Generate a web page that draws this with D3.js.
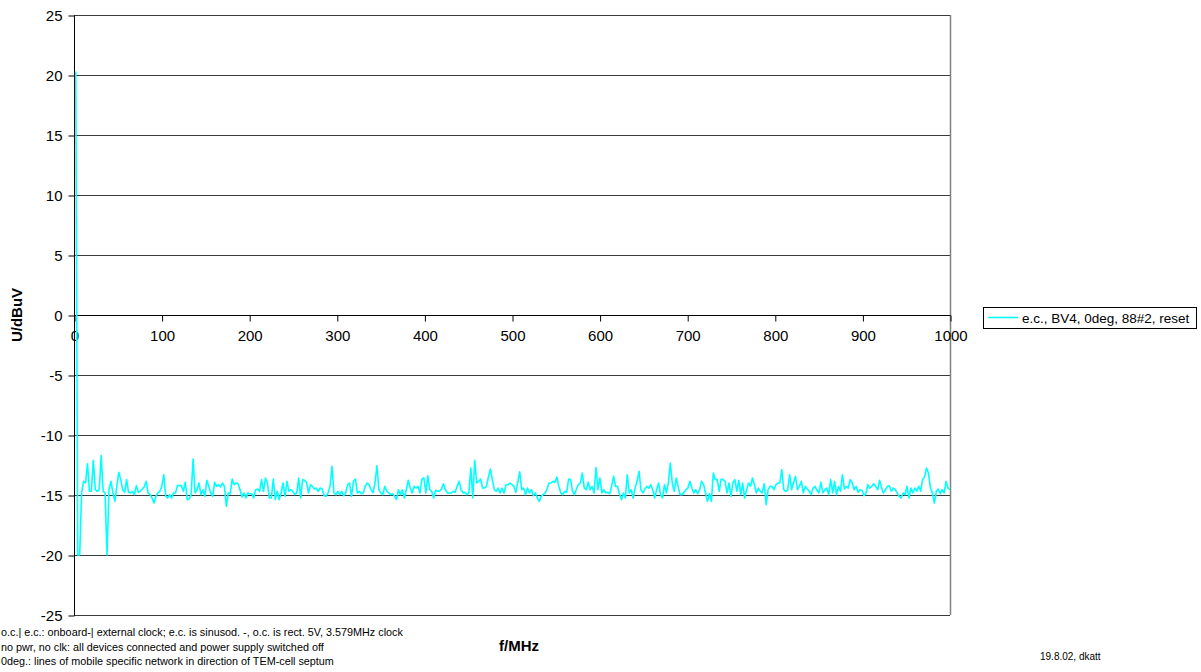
<!DOCTYPE html>
<html lang="en">
    <head>
        <meta charset="utf-8">
        <title>U/dBuV vs f/MHz</title>
        <script src="https://d3js.org/d3.v7.min.js"></script>
        <style type="text/css">
            body { margin: 0; background: #fff; }
            text { font-family: Arial, "Liberation Sans", sans-serif; }
        </style>
    </head>
    <body>
        <script type="text/javascript">

        // Constants
        const w = 1201;
        const h = 672;
        const plot = {left: 74, right: 950, top: 15, bottom: 615};

        // Data
        const seriesName = "e.c., BV4, 0deg, 88#2, reset";
        const xTicks = [0, 100, 200, 300, 400, 500, 600, 700, 800, 900, 1000];
        const yTicks = [25, 20, 15, 10, 5, 0, -5, -10, -15, -20, -25];
        const fFirst = 2;      // first sweep frequency, MHz
        const fLast = 1000;    // last sweep frequency, MHz
        const notes = [
            "o.c.| e.c.: onboard-| external clock; e.c. is sinusod. -, o.c. is rect. 5V, 3.579MHz clock",
            "no pwr, no clk: all devices connected and power supply switched off",
            "0deg.: lines of mobile specific network in direction of TEM-cell septum"
        ];
        const stamp = "19.8.02, dkatt";

        // measured level, dBuV, one value per sweep point
        const levels = [
            20.3, -20, -20,
            -14.83, -13.86, -14.0, -12.39, -14.69, -14.69, -12.11, -14.56, -14.69, -14.56,
            -11.72, -14.69, -14.83, -20, -14.56, -13.86, -14.83, -15.53, -14.28, -13.11,
            -13.72, -14.56, -14.78, -13.72, -14.78, -14.83, -14.69, -14.97, -14.22, -14.78,
            -14.69, -14.5, -14.33, -13.86, -14.83, -14.97, -15.25, -15.67, -15.11, -14.83,
            -14.69, -14.28, -13.31, -15.11, -15.25, -14.97, -15.25, -14.83, -14.83, -14.22,
            -14.22, -14.22, -14.69, -13.94, -15.39, -15.33, -14.97, -12.0, -14.83, -14.56,
            -14.0, -14.97, -14.56, -15.11, -13.78, -14.28, -14.83, -15.11, -13.94, -14.28,
            -14.14, -14.33, -14.0, -14.28, -15.94, -14.83, -14.89, -13.67, -14.14, -14.0,
            -14.06, -14.56, -15.17, -14.83, -15.25, -14.83, -14.89, -14.89, -15.25, -14.56,
            -14.5, -14.69, -13.72, -14.69, -13.58, -14.0, -15.25, -15.25, -13.67, -15.39,
            -14.69, -15.39, -14.83, -14.0, -15.11, -13.86,
            // 250 - 500 MHz
            -14.69, -14.56, -14.69, -14.97, -14.83, -13.58, -15.25, -13.72, -13.78, -13.94,
            -14.83, -14.14, -14.28, -14.5, -14.42, -14.69, -14.42, -14.5, -15.06, -15.11,
            -14.83, -14.28, -12.61, -14.83, -14.97, -14.69, -14.97, -14.69, -15.06, -14.83,
            -14.14, -14.0, -15.11, -13.86, -13.67, -14.83, -14.69, -14.89, -14.83, -14.28,
            -14.0, -14.14, -14.56, -14.83, -14.0, -12.56, -14.56, -14.83, -14.97, -14.28,
            -14.69, -14.83, -14.97, -14.89, -15.11, -15.39, -14.56, -14.97, -14.56, -15.25,
            -14.56, -13.78, -14.42, -14.83, -14.28, -14.42, -14.28, -14.83, -13.67, -13.58,
            -14.83, -13.39, -14.56, -14.69, -15.25, -14.61, -14.69, -14.69, -14.5, -14.06,
            -14.56, -14.83, -14.83, -14.83, -14.69, -14.78, -14.28, -13.86, -14.56, -14.83,
            -14.78, -14.97, -14.83, -12.75, -15.25, -12.11, -14.0, -13.86, -13.67, -14.42,
            -14.42, -14.28, -13.5, -12.83, -13.72, -14.56, -14.69, -14.42, -14.83, -14.42,
            -14.83, -14.14,
            // 500 - 750 MHz
            -14.14, -14.0, -14.14, -14.28, -14.78, -13.94, -13.06, -14.56, -14.42, -14.97,
            -14.42, -14.83, -14.56, -15.06, -14.83, -15.25, -15.53, -15.11, -14.97, -14.83,
            -14.5, -14.0, -14.0, -13.86, -13.94, -13.5, -14.28, -14.83, -14.97, -14.69,
            -14.78, -13.67, -13.72, -14.69, -14.97, -14.5, -14.14, -14.0, -13.17, -14.42,
            -14.56, -13.94, -14.56, -14.28, -14.83, -12.72, -14.56, -13.58, -14.83, -14.56,
            -14.83, -14.78, -14.89, -14.28, -13.44, -14.28, -14.28, -14.89, -15.39, -14.83,
            -15.25, -13.31, -14.83, -14.56, -15.25, -14.42, -13.86, -13.03, -14.56, -14.83,
            -14.5, -14.28, -14.42, -14.14, -14.56, -15.25, -14.56, -14.0, -14.97, -15.25,
            -14.14, -14.83, -14.0, -12.33, -14.0, -14.69, -13.58, -14.28, -14.97, -14.97,
            -14.78, -14.56, -14.42, -13.86, -14.42, -14.83, -14.56, -14.89, -14.56, -13.86,
            -14.14, -14.83, -15.53, -14.89, -15.53, -13.17, -13.72, -13.72, -14.69, -13.67,
            -13.72, -13.86,
            // 750 - 1000 MHz
            -14.83, -14.0, -15.11, -14.0, -13.72, -14.69, -13.78, -14.97, -14.0, -15.25,
            -14.56, -14.0, -14.28, -13.58, -14.14, -14.83, -14.42, -14.69, -14.83, -14.06,
            -15.81, -14.56, -14.28, -14.28, -14.56, -14.14, -14.0, -14.0, -12.89, -14.56,
            -14.69, -14.61, -13.31, -14.56, -14.0, -13.44, -14.56, -14.28, -13.86, -14.83,
            -14.28, -14.5, -14.69, -14.97, -14.42, -14.28, -14.61, -14.83, -13.94, -14.83,
            -14.56, -14.42, -14.97, -13.72, -14.83, -13.86, -14.97, -14.28, -14.69, -13.31,
            -14.5, -14.28, -14.42, -13.72, -14.0, -14.56, -14.28, -14.78, -14.56, -14.61,
            -15.06, -14.89, -14.14, -14.42, -14.28, -14.06, -14.28, -14.56, -13.78, -14.42,
            -14.83, -14.56, -14.28, -14.22, -14.69, -14.42, -14.56, -14.83, -15.11, -15.25,
            -14.83, -14.97, -14.28, -15.25, -14.42, -14.83, -14.42, -14.69, -14.28, -14.69,
            -13.72, -13.5, -12.75, -13.17, -14.42, -14.83, -15.67, -14.69, -14.5, -14.89,
            -14.56, -14.83, -13.86, -14.42, -14.56
        ];

        // sweep points are evenly spaced between first and last frequency
        const fStep = (fLast - fFirst) / (levels.length - 1);
        const data = levels.map((v, i) => ({f: fFirst + i * fStep, v: v}));

        // SVG
        const svg = d3.select("body")
                      .append("svg")
                      .attr("width", w)
                      .attr("height", h);

        const xScale = d3.scaleLinear()
                         .domain([0, 1000])
                         .range([plot.left, plot.right]);

        const yScale = d3.scaleLinear()
                         .domain([-25, 25])
                         .range([plot.bottom, plot.top]);

        // gridlines
        svg.append("g")
           .selectAll("line")
           .data(yTicks.filter(t => t !== 0))
           .enter()
           .append("line")
           .attr("x1", plot.left)
           .attr("x2", plot.right)
           .attr("y1", d => Math.round(yScale(d)) + 0.5)
           .attr("y2", d => Math.round(yScale(d)) + 0.5)
           .attr("stroke", "#3a3a3a")
           .attr("stroke-width", 1);

        // plot area border, right side
        svg.append("line")
           .attr("x1", plot.right + 0.5)
           .attr("x2", plot.right + 0.5)
           .attr("y1", plot.top)
           .attr("y2", plot.bottom)
           .attr("stroke", "#808080")
           .attr("stroke-width", 1.5);

        //Left Axis
        const leftAxis = d3.axisLeft(yScale)
                           .tickValues(yTicks)
                           .tickSize(6)
                           .tickPadding(6)
                           .tickFormat(d => String(d));

        const gy = svg.append("g")
                      .attr("transform", "translate(" + (plot.left + 0.5) + ",0.5)")
                      .call(leftAxis);
        gy.select(".domain").attr("stroke", "#000").attr("d", "M0," + plot.top + "V" + plot.bottom);
        gy.selectAll("text")
          .attr("font-size", "15px")
          .attr("fill", "#000")
          .attr("font-family", "Arial, 'Liberation Sans', sans-serif");

        //bottom Axis (crosses at 0)
        const bottomAxis = d3.axisBottom(xScale)
                             .tickValues(xTicks)
                             .tickSize(6)
                             .tickPadding(9)
                             .tickFormat(d => String(d));

        const gx = svg.append("g")
                      .attr("transform", "translate(0.5," + (Math.round(yScale(0)) + 0.5) + ")")
                      .call(bottomAxis);
        gx.select(".domain").attr("stroke", "#000").attr("d", "M" + plot.left + ",0H" + plot.right);
        gx.selectAll("text")
          .attr("font-size", "15px")
          .attr("fill", "#000")
          .attr("font-family", "Arial, 'Liberation Sans', sans-serif");

        // series line
        const line = d3.line()
                       .x(d => xScale(d.f))
                       .y(d => yScale(d.v));

        svg.append("path")
           .datum(data)
           .attr("d", line)
           .attr("fill", "none")
           .attr("stroke", "#00ffff")
           .attr("stroke-width", 1.6)
           .attr("stroke-linejoin", "round");

        // axis titles
        svg.append("text")
           .attr("transform", "translate(22," + yScale(0) + ") rotate(-90)")
           .attr("text-anchor", "middle")
           .attr("font-size", "15px")
           .attr("font-weight", "bold")
           .text("U/dBuV");

        svg.append("text")
           .attr("x", 519)
           .attr("y", 651)
           .attr("text-anchor", "middle")
           .attr("font-size", "15px")
           .attr("font-weight", "bold")
           .text("f/MHz");

        // legend
        const lg = svg.append("g");
        lg.append("rect")
          .attr("x", 983.5)
          .attr("y", 307.5)
          .attr("width", 213)
          .attr("height", 21)
          .attr("fill", "#fff")
          .attr("stroke", "#000")
          .attr("stroke-width", 1);
        lg.append("line")
          .attr("x1", 988)
          .attr("x2", 1018)
          .attr("y1", 317.5)
          .attr("y2", 317.5)
          .attr("stroke", "#00ffff")
          .attr("stroke-width", 1.6);
        lg.append("text")
          .attr("x", 1022)
          .attr("y", 322.5)
          .attr("font-size", "13.5px")
          .text(seriesName);

        // notes
        svg.append("g")
           .selectAll("text")
           .data(notes)
           .enter()
           .append("text")
           .attr("x", 1)
           .attr("y", (d, i) => 636 + i * 14.5)
           .attr("font-size", "10.8px")
           .text(d => d);

        svg.append("text")
           .attr("x", 1040)
           .attr("y", 660)
           .attr("font-size", "10px")
           .text(stamp);

        </script>
    </body>
</html>
